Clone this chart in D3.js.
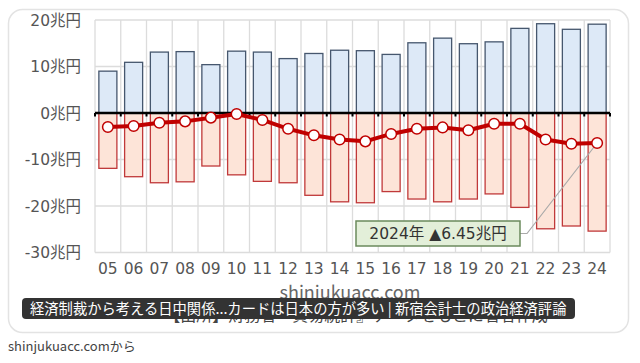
<!DOCTYPE html>
<html>
<head>
<meta charset="utf-8">
<script src="https://cdn.jsdelivr.net/npm/d3@7"></script>
<style>
  body { margin: 0; background: #fff; }
  text { font-family: "Noto Sans CJK JP", "Noto Sans", sans-serif; }
  .num { font-family: "DejaVu Sans", "Noto Sans CJK JP", sans-serif; }
</style>
</head>
<body>
<script>
// 日本の対中貿易（兆円）
var years = ['05','06','07','08','09','10','11','12','13','14','15','16','17','18','19','20','21','22','23','24'];
var exports = [9.0, 10.9, 13.1, 13.2, 10.4, 13.3, 13.1, 11.7, 12.8, 13.5, 13.4, 12.6, 15.1, 16.1, 14.9, 15.3, 18.2, 19.2, 18.0, 19.1];
var imports = [-11.9, -13.7, -15.0, -14.8, -11.4, -13.3, -14.7, -15.0, -17.7, -19.1, -19.3, -16.9, -18.5, -19.1, -18.5, -17.4, -20.3, -24.9, -24.3, -25.4];
var balance = [-3.0, -2.8, -2.1, -1.8, -1.0, -0.2, -1.5, -3.4, -4.8, -5.7, -6.1, -4.5, -3.4, -3.1, -3.7, -2.3, -2.3, -5.7, -6.6, -6.45];
var yTicks = [20, 10, 0, -10, -20, -30];

var W = 640, H = 363;
var svg = d3.select('body').append('svg')
    .attr('width', W)
    .attr('height', H);

// card
svg.append('rect')
    .attr('x', 8.5).attr('y', 9.5)
    .attr('width', 620).attr('height', 323)
    .attr('rx', 14)
    .attr('fill', '#fff')
    .attr('stroke', '#e3e3e3')
    .attr('stroke-width', 1.5);

var x = d3.scaleBand()
    .domain(years)
    .range([95, 610])
    .paddingInner(0.3)
    .paddingOuter(0.15);

var y = d3.scaleLinear()
    .domain([-30, 20])
    .range([252.5, 20]);

var step = x.step();
var x0 = x.range()[0], x1 = x.range()[1];

var grid = svg.append('g');
grid.selectAll('.hg')
    .data(yTicks)
    .enter().append('line')
    .attr('x1', x0).attr('x2', x1)
    .attr('y1', function(d) { return y(d); })
    .attr('y2', function(d) { return y(d); })
    .attr('stroke', '#dcdcdc').attr('stroke-width', 1.3);

grid.selectAll('.vg')
    .data(d3.range(years.length + 1))
    .enter().append('line')
    .attr('x1', function(i) { return x0 + i * step; })
    .attr('x2', function(i) { return x0 + i * step; })
    .attr('y1', y(20)).attr('y2', y(-30))
    .attr('stroke', '#dcdcdc').attr('stroke-width', 1.3);

// y labels
svg.append('g').selectAll('text')
    .data(yTicks)
    .enter().append('text')
    .attr('class', 'num')
    .attr('x', 81)
    .attr('y', function(d) { return y(d); })
    .attr('dy', '0.36em')
    .attr('text-anchor', 'end')
    .attr('font-size', 15.5)
    .attr('fill', '#555')
    .text(function(d) { return d + '兆円'; });

// x labels
svg.append('g').selectAll('text')
    .data(years)
    .enter().append('text')
    .attr('class', 'num')
    .attr('x', function(d) { return x(d) + x.bandwidth() / 2; })
    .attr('y', 268)
    .attr('dy', '0.36em')
    .attr('text-anchor', 'middle')
    .attr('font-size', 15.5)
    .attr('fill', '#555')
    .text(function(d) { return d; });

// bars
svg.append('g').selectAll('rect')
    .data(exports)
    .enter().append('rect')
    .attr('x', function(d, i) { return x(years[i]); })
    .attr('y', function(d) { return y(d); })
    .attr('width', x.bandwidth())
    .attr('height', function(d) { return y(0) - y(d); })
    .attr('fill', '#dde9f7')
    .attr('stroke', '#46576e')
    .attr('stroke-width', 1.3);

svg.append('g').selectAll('rect')
    .data(imports)
    .enter().append('rect')
    .attr('x', function(d, i) { return x(years[i]); })
    .attr('y', y(0))
    .attr('width', x.bandwidth())
    .attr('height', function(d) { return y(d) - y(0); })
    .attr('fill', '#fde4d8')
    .attr('stroke', '#c0393a')
    .attr('stroke-width', 1.3);

// zero axis with ticks
svg.append('line')
    .attr('x1', x0).attr('x2', x1)
    .attr('y1', y(0)).attr('y2', y(0))
    .attr('stroke', '#000').attr('stroke-width', 2.5);
svg.append('g').selectAll('line')
    .data(d3.range(years.length + 1))
    .enter().append('line')
    .attr('x1', function(i) { return x0 + i * step; })
    .attr('x2', function(i) { return x0 + i * step; })
    .attr('y1', y(0)).attr('y2', y(0) + 3.5)
    .attr('stroke', '#000').attr('stroke-width', 2);

// leader line for annotation
var last = years.length - 1;
var px = x(years[last]) + x.bandwidth() / 2, py = y(balance[last]);
svg.append('polyline')
    .attr('points', [[520, 233.5], [527, 233.5], [px, py]].map(function(p) { return p.join(','); }).join(' '))
    .attr('fill', 'none')
    .attr('stroke', '#a9a9a9')
    .attr('stroke-width', 1.2);

// balance line
var line = d3.line()
    .x(function(d, i) { return x(years[i]) + x.bandwidth() / 2; })
    .y(function(d) { return y(d); });
svg.append('path')
    .datum(balance)
    .attr('d', line)
    .attr('fill', 'none')
    .attr('stroke', '#c00000')
    .attr('stroke-width', 4)
    .attr('stroke-linejoin', 'round');
svg.append('g').selectAll('circle')
    .data(balance)
    .enter().append('circle')
    .attr('cx', function(d, i) { return x(years[i]) + x.bandwidth() / 2; })
    .attr('cy', function(d) { return y(d); })
    .attr('r', 5.3)
    .attr('fill', '#fff')
    .attr('stroke', '#c00000')
    .attr('stroke-width', 1.5);

// annotation box
svg.append('rect')
    .attr('x', 356).attr('y', 221)
    .attr('width', 164).attr('height', 25)
    .attr('fill', '#e3efd9')
    .attr('stroke', '#6b8a5c')
    .attr('stroke-width', 1.5);
svg.append('text')
    .attr('class', 'num')
    .attr('x', 438).attr('y', 233.5)
    .attr('dy', '0.36em')
    .attr('text-anchor', 'middle')
    .attr('font-size', 15.5)
    .attr('fill', '#333')
    .text('2024年 ▲6.45兆円');

// watermark and source (partly hidden by the caption bar)
svg.append('text')
    .attr('x', 350).attr('y', 299)
    .attr('text-anchor', 'middle')
    .attr('font-size', 18)
    .attr('fill', '#666')
    .text('shinjukuacc.com');
svg.append('text')
    .attr('x', 356).attr('y', 321)
    .attr('text-anchor', 'middle')
    .attr('font-size', 16)
    .attr('fill', '#444')
    .text('【出所】財務省『貿易統計』データをもとに著者作成');

// caption bar
svg.append('rect')
    .attr('x', 22).attr('y', 298)
    .attr('width', 553).attr('height', 21)
    .attr('rx', 4)
    .attr('fill', '#333');
svg.append('text')
    .attr('x', 30).attr('y', 308.5)
    .attr('dy', '0.36em')
    .attr('font-size', 14.3)
    .attr('fill', '#fff')
    .text('経済制裁から考える日中関係...カードは日本の方が多い | 新宿会計士の政治経済評論');

svg.append('text')
    .attr('x', 8).attr('y', 346)
    .attr('dy', '0.36em')
    .attr('font-size', 13)
    .attr('fill', '#444')
    .text('shinjukuacc.comから');
</script>
</body>
</html>
